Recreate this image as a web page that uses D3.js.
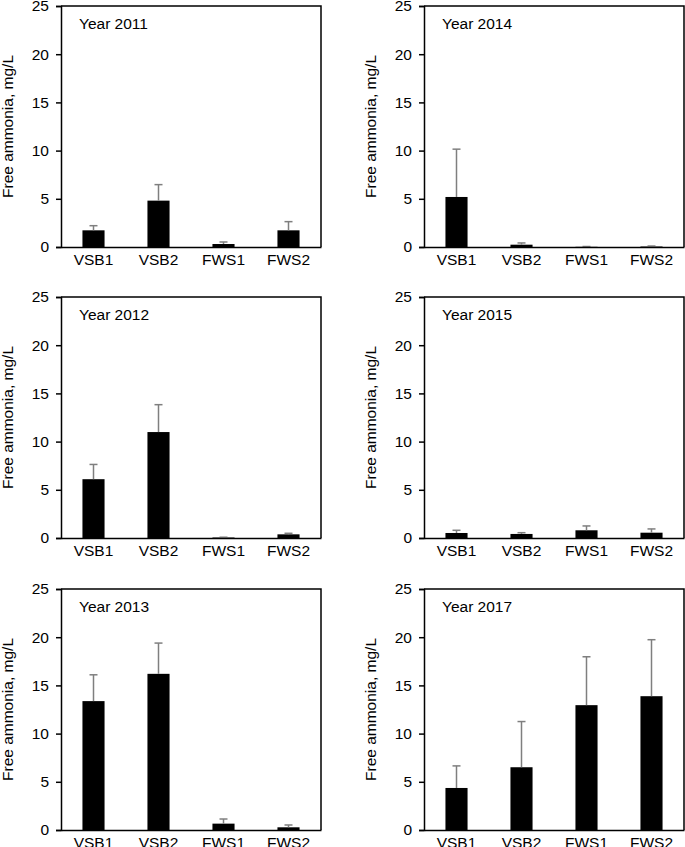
<!DOCTYPE html>
<html>
<head>
<meta charset="utf-8">
<script src="https://cdn.jsdelivr.net/npm/d3@7"></script>
<style>
  html, body { margin: 0; padding: 0; background: #fff; }
  svg { display: block; }
  text { font-family: "Liberation Sans", Arial, sans-serif; fill: #000; }
</style>
</head>
<body>
<svg id="chart" width="685" height="847"></svg>
<script>
// ---- data ----
const categories = ["VSB1", "VSB2", "FWS1", "FWS2"];
const panelTitles = ["Year 2011", "Year 2014", "Year 2012", "Year 2015", "Year 2013", "Year 2017"];
const yTicks = [0, 5, 10, 15, 20, 25];
const yTitle = "Free ammonia, mg/L";

const mean2011 = [1.73, 4.81, 0.31, 1.73];
const err2011  = [0.48, 1.66, 0.21, 0.90];
const mean2014 = [5.19, 0.24, 0.02, 0.05];
const err2014  = [4.96, 0.18, 0.03, 0.05];
const mean2012 = [6.10, 10.99, 0.05, 0.38];
const err2012  = [1.53, 2.84, 0.03, 0.11];
const mean2015 = [0.52, 0.42, 0.80, 0.55];
const err2015  = [0.28, 0.13, 0.45, 0.39];
const mean2013 = [13.37, 16.20, 0.66, 0.28];
const err2013  = [2.73, 3.19, 0.48, 0.24];
const mean2017 = [4.36, 6.51, 12.95, 13.88];
const err2017  = [2.29, 4.74, 5.02, 5.86];

const panelMeans = [mean2011, mean2014, mean2012, mean2015, mean2013, mean2017];
const panelErrs  = [err2011, err2014, err2012, err2015, err2013, err2017];

// ---- layout ----
const svg = d3.select("#chart");
const colLeft = [61, 424];
const rowTop = [6, 297, 589];
const pw = 260, ph = 241;
const fontSize = 15.5;

const x = d3.scaleBand().domain(categories).range([0, pw]).paddingInner(0.66).paddingOuter(0.33);
const y = d3.scaleLinear().domain([0, 25]).range([ph, 0]);

panelTitles.forEach((title, i) => {
  const col = i % 2, row = Math.floor(i / 2);
  const g = svg.append("g").attr("transform", `translate(${colLeft[col]},${rowTop[row]})`);
  const means = panelMeans[i], errs = panelErrs[i];
  const data = categories.map((c, k) => ({ c, m: means[k], e: errs[k] }));

  // bars
  g.selectAll("rect.bar").data(data).enter().append("rect")
    .attr("class", "bar")
    .attr("x", d => x(d.c))
    .attr("width", x.bandwidth())
    .attr("y", d => y(d.m))
    .attr("height", d => ph - y(d.m))
    .attr("fill", "#000");

  // error bars (upper only)
  const eb = g.selectAll("g.err").data(data).enter().append("g").attr("class", "err");
  eb.append("line")
    .attr("x1", d => x(d.c) + x.bandwidth() / 2)
    .attr("x2", d => x(d.c) + x.bandwidth() / 2)
    .attr("y1", d => y(d.m))
    .attr("y2", d => y(d.m + d.e))
    .attr("stroke", "#7f7f7f").attr("stroke-width", 1.5);
  eb.append("line")
    .attr("x1", d => x(d.c) + x.bandwidth() / 2 - 4)
    .attr("x2", d => x(d.c) + x.bandwidth() / 2 + 4)
    .attr("y1", d => y(d.m + d.e))
    .attr("y2", d => y(d.m + d.e))
    .attr("stroke", "#7f7f7f").attr("stroke-width", 1.5);

  // frame top/right
  g.append("path")
    .attr("d", `M0,0H${pw}V${ph}`)
    .attr("fill", "none").attr("stroke", "#000").attr("stroke-width", 1.5);

  // y axis
  const ya = g.append("g").call(d3.axisLeft(y).tickValues(yTicks).tickSize(5).tickPadding(7).tickFormat(d3.format("d")));
  ya.select(".domain").attr("stroke-width", 1.5);
  ya.selectAll(".tick line").attr("stroke-width", 1.5);
  ya.selectAll("text").attr("font-size", fontSize).attr("font-family", "Liberation Sans, Arial, sans-serif");

  // x axis
  const xa = g.append("g").attr("transform", `translate(0,${ph})`)
    .call(d3.axisBottom(x).tickSize(0).tickPadding(7));
  xa.select(".domain").attr("stroke-width", 1.5);
  xa.selectAll("text").attr("font-size", fontSize).attr("font-family", "Liberation Sans, Arial, sans-serif");

  // panel title
  g.append("text").attr("x", 18).attr("y", 23).attr("font-size", fontSize).text(title);

  // y axis title
  g.append("text")
    .attr("transform", `translate(-48,${ph / 2}) rotate(-90)`)
    .attr("text-anchor", "middle")
    .attr("font-size", fontSize)
    .text(yTitle);
});
</script>
</body>
</html>
